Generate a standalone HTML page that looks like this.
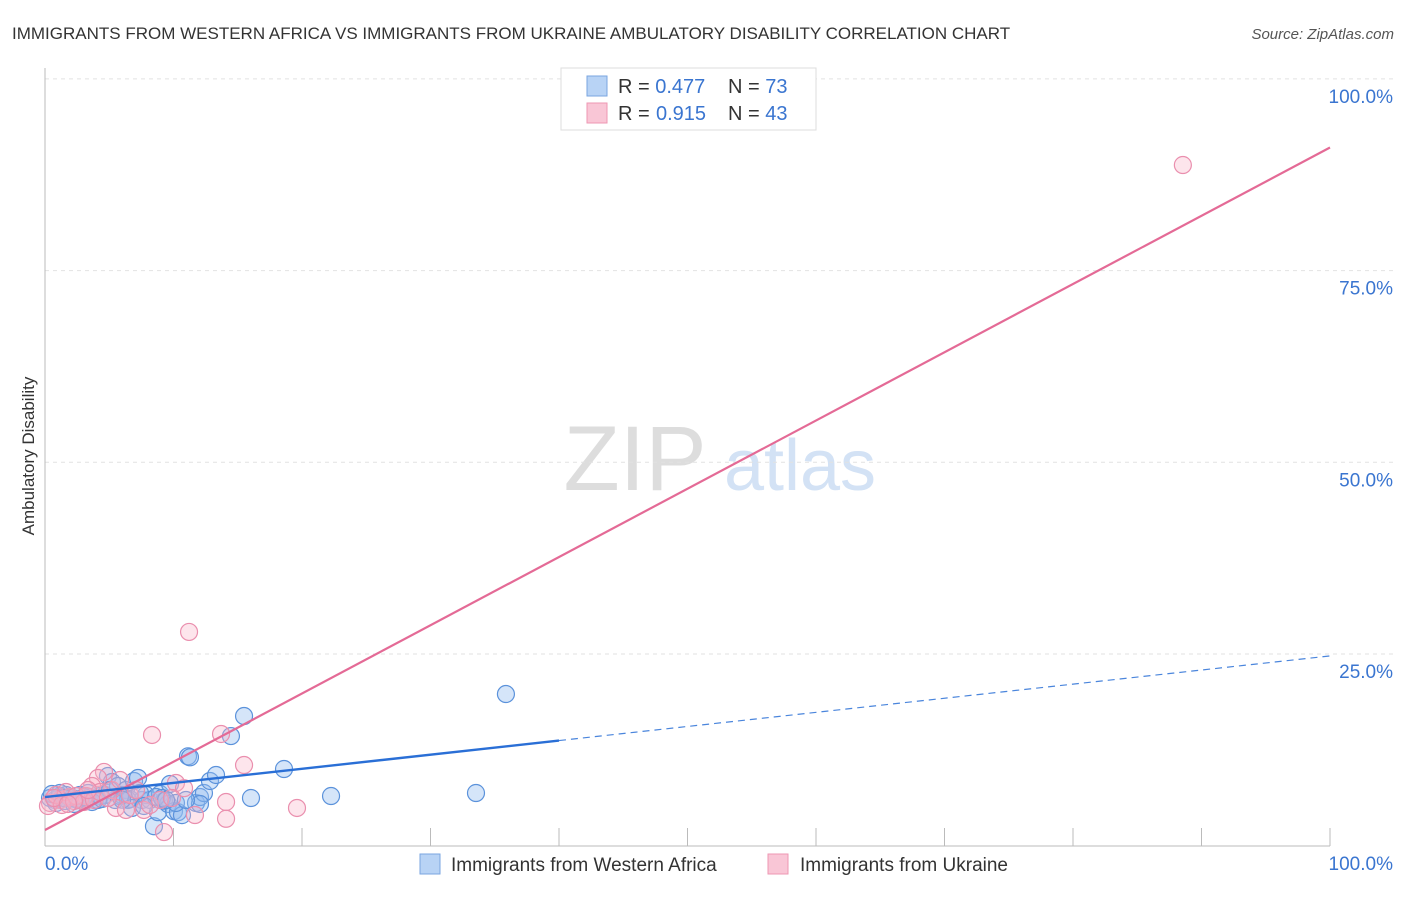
<!DOCTYPE html>
<html><head><meta charset="utf-8">
<style>
body{margin:0;background:#fff;font-family:"Liberation Sans",sans-serif;}
svg text{font-family:"Liberation Sans",sans-serif;}
</style></head>
<body>
<svg id="chart" width="1406" height="892" xmlns="http://www.w3.org/2000/svg">
<text x="12" y="39" font-size="17" fill="#333">IMMIGRANTS FROM WESTERN AFRICA VS IMMIGRANTS FROM UKRAINE AMBULATORY DISABILITY CORRELATION CHART</text>
<text x="1394" y="39" font-size="15" fill="#555" text-anchor="end" font-style="italic">Source: ZipAtlas.com</text>
<text transform="translate(34,456) rotate(-90)" font-size="17" fill="#333" text-anchor="middle">Ambulatory Disability</text>
<g>
<text x="635" y="490" font-size="92" fill="#ddd" font-family="Liberation Serif,serif" text-anchor="middle">ZIP</text>
<text x="800" y="490" font-size="72" fill="#d3e2f5" text-anchor="middle">atlas</text>
</g>
<g id="grid"></g><g id="axes"></g><g id="pts"></g><g id="lines"></g>
<g>
<rect x="561" y="68" width="255" height="62" fill="#fff" stroke="#ddd"/>
<rect x="587" y="76" width="20" height="20" fill="#b8d3f5" stroke="#7aa6e0"/>
<rect x="587" y="103" width="20" height="20" fill="#f9c6d6" stroke="#ee97b3"/>
<text x="618" y="93" font-size="20" fill="#333">R = <tspan fill="#3a75d0">0.477</tspan><tspan x="728">N = </tspan><tspan fill="#3a75d0">73</tspan></text>
<text x="618" y="120" font-size="20" fill="#333">R = <tspan x="656" fill="#3a75d0">0.915</tspan><tspan x="728">N = </tspan><tspan fill="#3a75d0">43</tspan></text>
</g>
<g>
<rect x="420" y="854" width="20" height="20" fill="#b8d3f5" stroke="#7aa6e0"/>
<text x="451" y="871" font-size="19" fill="#333">Immigrants from Western Africa</text>
<rect x="768" y="854" width="20" height="20" fill="#f9c6d6" stroke="#ee97b3"/>
<text x="800" y="871" font-size="19" fill="#333">Immigrants from Ukraine</text>
</g>
</svg>
<script>
const blueX=[0.39,0.78,1.17,1.56,1.95,2.33,2.72,3.11,3.5,3.89,4.28,4.67,4.9,5.21,5.45,5.68,5.99,6.3,6.61,6.93,7.24,7.55,7.86,8.17,8.48,8.79,8.95,9.26,9.57,9.73,10.04,10.35,10.66,11.13,11.28,11.75,12.06,12.37,12.84,13.31,14.47,15.49,16.03,18.6,22.26,33.54,35.87,0.86,1.63,2.1,2.57,3.35,4.12,6.46,7.39,8.64,9.1,12.06,5.84,5.06,3.66,3.04,2.26,1.17,0.54,10.19,10.97,6.77,7.7,9.42,4.44,1.48,6.0];
const blueY=[6.22,5.96,6.48,5.83,6.35,6.09,6.61,5.83,6.35,5.96,6.48,6.61,9.09,8.31,5.96,7.79,6.61,7.26,6.09,8.44,8.83,5.96,6.61,5.96,2.54,4.37,6.74,5.83,5.44,8.05,4.5,4.37,3.99,11.66,11.53,5.57,6.35,6.87,8.44,9.22,14.3,16.91,6.22,10.0,6.48,6.87,19.78,5.57,6.61,6.22,5.96,6.87,5.96,5.96,6.87,6.35,6.22,5.44,6.48,7.26,5.7,6.35,5.44,6.87,6.74,5.57,5.96,4.92,5.18,5.96,6.09,6.22,6.0];
const pinkX=[88.55,11.21,8.33,13.7,15.49,19.61,14.09,14.09,11.67,9.26,10.19,10.82,4.59,4.12,5.52,6.3,7.7,5.21,5.84,3.66,3.19,2.72,1.95,1.17,0.39,0.23,0.86,1.63,2.41,3.04,3.81,4.28,4.9,6.61,7.08,8.17,8.95,9.88,1.32,2.26,3.35,0.7,1.79];
const pinkY=[88.77,27.88,14.44,14.57,10.52,4.92,5.7,3.51,4.0,1.78,8.18,7.5,9.62,8.83,4.92,4.66,4.66,7.26,8.57,7.79,6.48,5.96,6.35,5.96,5.57,5.18,6.61,7.0,6.48,5.7,5.96,7.0,6.22,6.61,7.26,5.31,5.96,6.22,5.31,5.83,7.26,6.22,5.44];
const blueFit=[6.35,0.184]; const pinkFit=[2.05,0.89];
const blueSolidEnd=40;
const yTicks=[25,50,75,100]; const yTickLabels=["25.0%","50.0%","75.0%","100.0%"];
const xTicks=[10,20,30,40,50,60,70,80,90,100];
const NS="http://www.w3.org/2000/svg";
const X=v=>45+v*12.85, Y=v=>845.7-v*7.668;
function mk(tag,at,parent){const e=document.createElementNS(NS,tag);for(const k in at)e.setAttribute(k,at[k]);document.getElementById(parent).appendChild(e);return e;}
yTicks.forEach((t,i)=>{
 const g=mk('line',{x1:45,x2:1394,y1:Y(t),y2:Y(t),stroke:'#e2e2e2','stroke-dasharray':'4,4'},'grid');
 
 
 const tx=mk('text',{x:1393,y:Y(t)+24,'font-size':19,fill:'#3a75d0','text-anchor':'end'},'axes');
 tx.textContent=yTickLabels[i];
 
 
});
let ax=mk('line',{x1:45,x2:45,y1:68,y2:846,stroke:'#bbb'},'axes');


ax=mk('line',{x1:45,x2:1330,y1:846,y2:846,stroke:'#bbb'},'axes');


xTicks.forEach(t=>{const l=mk('line',{x1:X(t),x2:X(t),y1:828,y2:846,stroke:'#bbb'},'axes');
 
 });
let t0=mk('text',{x:45,y:870,'font-size':19,fill:'#3a75d0'},'axes');t0.textContent='0.0%';


let t1=mk('text',{x:1393,y:870,'font-size':19,fill:'#3a75d0','text-anchor':'end'},'axes');t1.textContent='100.0%';


blueX.forEach((v,i)=>{const c=mk('circle',{cx:X(v),cy:Y(blueY[i]),r:8.5,fill:'rgba(150,190,240,0.4)',stroke:'#5b92db','stroke-width':1.2},'pts');
 
 });
pinkX.forEach((v,i)=>{const c=mk('circle',{cx:X(v),cy:Y(pinkY[i]),r:8.5,fill:'rgba(248,180,200,0.35)',stroke:'#ea8fae','stroke-width':1.2},'pts');
 
 });
let l=mk('line',{x1:X(0),y1:Y(pinkFit[0]),x2:X(100),y2:Y(pinkFit[0]+pinkFit[1]*100),stroke:'#e46a96','stroke-width':2.2},'lines');


l=mk('line',{x1:X(0),y1:Y(blueFit[0]),x2:X(blueSolidEnd),y2:Y(blueFit[0]+blueFit[1]*blueSolidEnd),stroke:'#2a6fd6','stroke-width':2.4},'lines');


l=mk('line',{x1:X(blueSolidEnd),y1:Y(blueFit[0]+blueFit[1]*blueSolidEnd),x2:X(100),y2:Y(blueFit[0]+blueFit[1]*100),stroke:'#4a85dc','stroke-width':1.2,'stroke-dasharray':'7,5'},'lines');


</script>
</body></html>
